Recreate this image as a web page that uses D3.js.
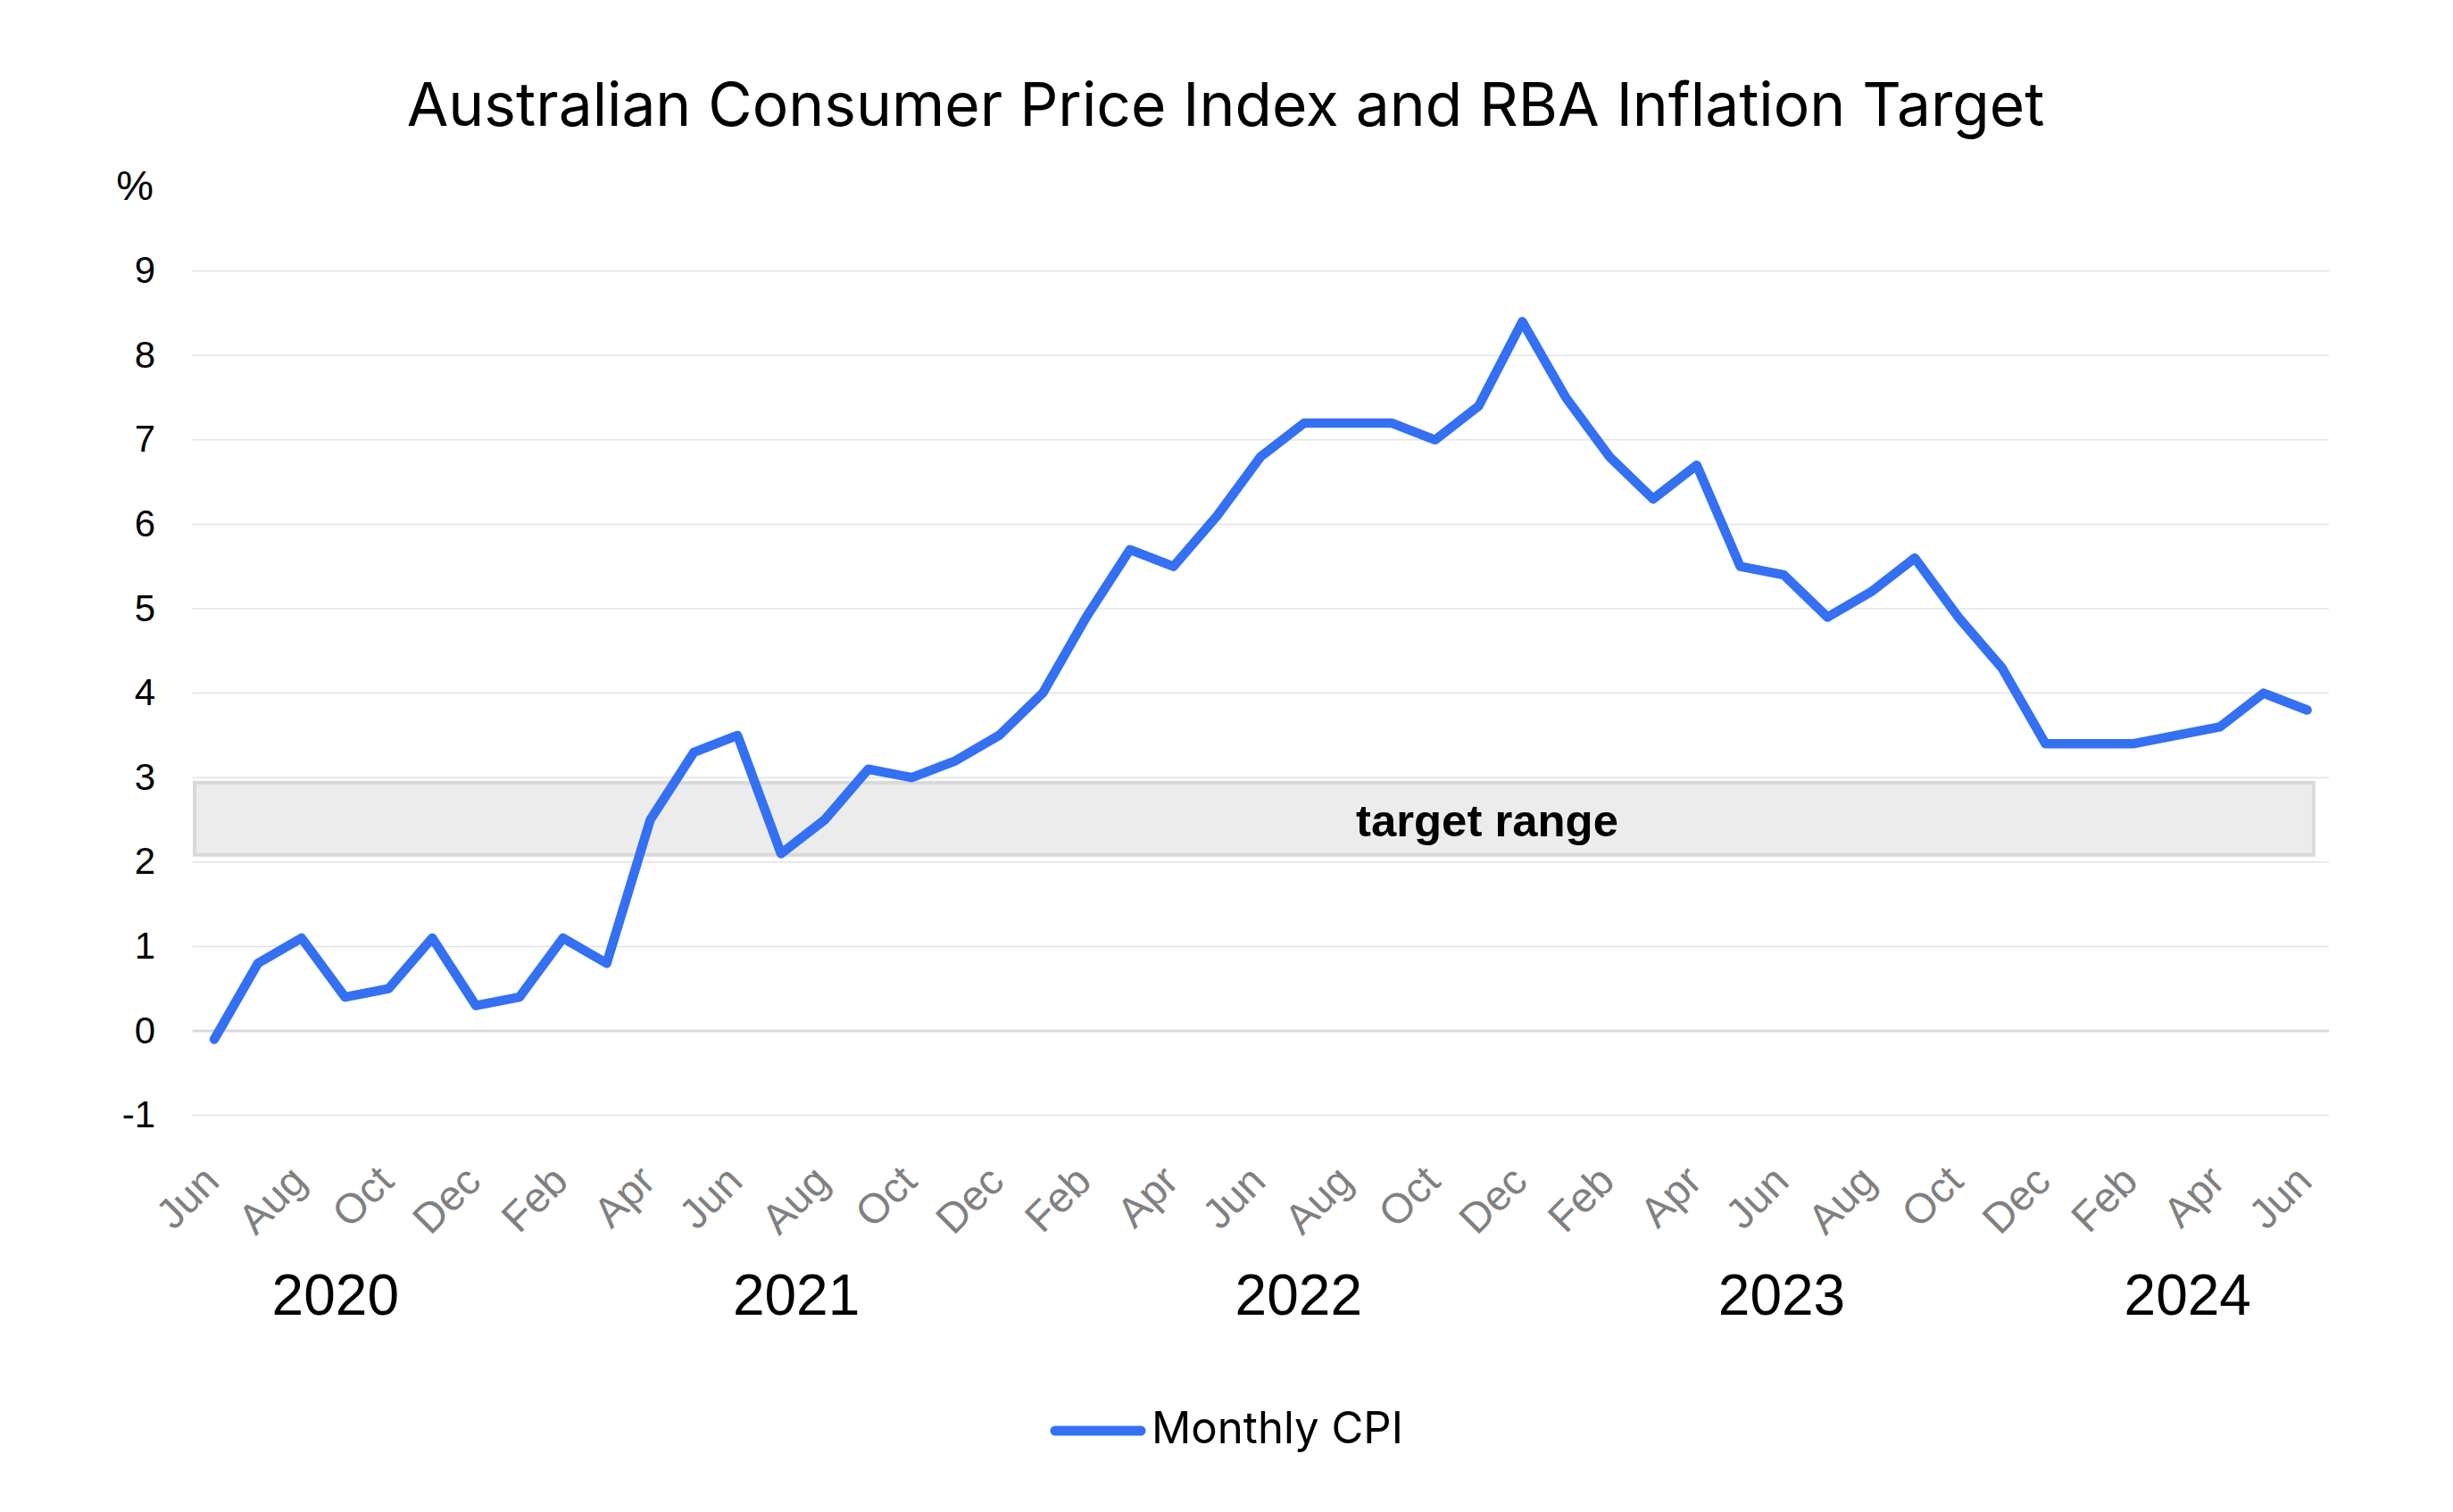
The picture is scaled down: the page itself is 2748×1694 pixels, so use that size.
<!DOCTYPE html>
<html>
<head>
<meta charset="utf-8">
<script src="https://cdn.jsdelivr.net/npm/d3@7"></script>
<style>
  html, body { margin: 0; padding: 0; background: #fff; }
  svg { display: block; }
</style>
</head>
<body>
<svg id="chart" width="2748" height="1694"></svg>
<script>
// ---- Data ----
const months = ["Jun","Jul","Aug","Sep","Oct","Nov","Dec",
  "Jan","Feb","Mar","Apr","May","Jun","Jul","Aug","Sep","Oct","Nov","Dec",
  "Jan","Feb","Mar","Apr","May","Jun","Jul","Aug","Sep","Oct","Nov","Dec",
  "Jan","Feb","Mar","Apr","May","Jun","Jul","Aug","Sep","Oct","Nov","Dec",
  "Jan","Feb","Mar","Apr","May","Jun"];
const cpi = [-0.1,0.8,1.1,0.4,0.5,1.1,0.3,
  0.4,1.1,0.8,2.5,3.3,3.5,2.1,2.5,3.1,3.0,3.2,3.5,
  4.0,4.9,5.7,5.5,6.1,6.8,7.2,7.2,7.2,7.0,7.4,8.4,
  7.5,6.8,6.3,6.7,5.5,5.4,4.9,5.2,5.6,4.9,4.3,3.4,
  3.4,3.4,3.5,3.6,4.0,3.8];
const yTicks = [-1,0,1,2,3,4,5,6,7,8,9];
const years = ["2020","2021","2022","2023","2024"];
const yearLabelAt = [2.78, 13.35, 24.87, 35.95, 45.26]; // month index where each year label is centred
const targetBand = { low: 2.085, high: 2.94, from: -0.45, to: 48.15 };
const seriesName = "Monthly CPI";
const title = "Australian Consumer Price Index and RBA Inflation Target";

// ---- Setup ----
const svg = d3.select("#chart");
const blue = "#3470f4";
const x = d3.scaleLinear().domain([-0.5, months.length - 0.5]).range([215.6, 2609]);
const y = d3.scaleLinear().domain([-1, 9]).range([1249.6, 303.6]);

function fit(sel, target) {
  const n = sel.node();
  const w = n.getComputedTextLength();
  const fs = parseFloat(sel.attr("font-size"));
  sel.attr("font-size", fs * target / w);
}

// Title
const t = svg.append("text")
  .attr("x", 1373).attr("y", 141)
  .attr("text-anchor", "middle")
  .attr("font-family", "Inter, 'Noto Sans', sans-serif")
  .attr("font-size", 70).attr("fill", "#000")
  .text(title);
fit(t, 1835);

// Gridlines
svg.append("g").selectAll("line").data(yTicks).join("line")
  .attr("x1", x(-0.5)).attr("x2", x(months.length - 0.5))
  .attr("y1", d => y(d)).attr("y2", d => y(d))
  .attr("stroke", d => d === 0 ? "#d9d9d9" : "#e3e3e3")
  .attr("stroke-width", d => d === 0 ? 3 : 1.5);

// Y axis labels
const yAxis = d3.axisLeft(y).tickValues(yTicks).tickSize(0).tickPadding(0).tickFormat(d => String(d));
const gy = svg.append("g").attr("transform", "translate(174,0)").call(yAxis);
gy.select(".domain").remove();
gy.selectAll("text")
  .attr("font-family", "'Liberation Sans', Arial, sans-serif")
  .attr("font-size", 42).attr("fill", "#000")
  .attr("dy", "0.31em").attr("x", 0);

svg.append("text").attr("x", 172).attr("y", 224)
  .attr("text-anchor", "end")
  .attr("font-family", "'Liberation Sans', Arial, sans-serif")
  .attr("font-size", 47).attr("fill", "#000").text("%");

// Target band
svg.append("rect")
  .attr("x", x(targetBand.from)).attr("y", y(targetBand.high))
  .attr("width", x(targetBand.to) - x(targetBand.from))
  .attr("height", y(targetBand.low) - y(targetBand.high))
  .attr("fill", "#ebeceb").attr("stroke", "#d9d9d9").attr("stroke-width", 4);

const tr = svg.append("text")
  .attr("x", 1666).attr("y", 937)
  .attr("text-anchor", "middle")
  .attr("font-family", "'Liberation Sans', Arial, sans-serif")
  .attr("font-weight", "bold")
  .attr("font-size", 42).attr("fill", "#000")
  .text("target range");
fit(tr, 294);

// Line
const line = d3.line().x((d, i) => x(i)).y(d => y(d));
svg.append("path").datum(cpi)
  .attr("d", line)
  .attr("fill", "none").attr("stroke", blue)
  .attr("stroke-width", 10.5)
  .attr("stroke-linejoin", "round").attr("stroke-linecap", "round");

// X month labels (every second month)
const tickIdx = d3.range(0, months.length, 2);
svg.append("g").selectAll("text").data(tickIdx).join("text")
  .attr("transform", i => `translate(${x(i) + 8},1326) rotate(-45)`)
  .attr("text-anchor", "end")
  .attr("font-family", "'Liberation Sans', Arial, sans-serif")
  .attr("font-size", 47).attr("fill", "#808080")
  .text(i => months[i]);

// Year labels
svg.append("g").selectAll("text").data(years).join("text")
  .attr("x", (d, i) => x(yearLabelAt[i])).attr("y", 1473)
  .attr("text-anchor", "middle")
  .attr("font-family", "'Liberation Sans', Arial, sans-serif")
  .attr("font-size", 64).attr("fill", "#000")
  .text(d => d);

// Legend
svg.append("line")
  .attr("x1", 1182).attr("x2", 1278).attr("y1", 1603).attr("y2", 1603)
  .attr("stroke", blue).attr("stroke-width", 11).attr("stroke-linecap", "round");
const lg = svg.append("text")
  .attr("x", 1290).attr("y", 1617)
  .attr("font-family", "Inter, 'Noto Sans', sans-serif")
  .attr("font-size", 51).attr("fill", "#000")
  .text(seriesName);
fit(lg, 282);
</script>
</body>
</html>
